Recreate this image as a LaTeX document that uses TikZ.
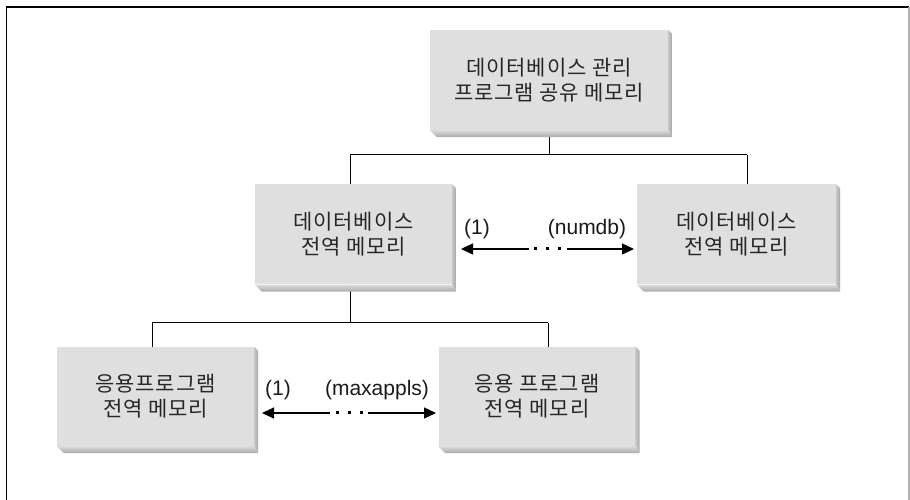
\documentclass[tikz,border=0pt]{standalone}
\usepackage{fontspec}
\setmainfont{Liberation Sans}
\newfontfamily\krfont[LetterSpace=4]{Noto Sans CJK KR}
\usetikzlibrary{calc,arrows.meta}

\begin{document}
\begin{tikzpicture}[%
    x=1pt,y=1pt,%
    membox/.style={fill=gray!25, inner sep=0pt, minimum width=197pt,%
      minimum height=100pt, align=center, text=black!85,%
      font=\krfont\fontsize{21}{25}\selectfont},%
    link/.style={line width=1pt},%
    tip/.style={line width=1.2pt, >={Triangle[length=12pt,width=11pt]}},%
    lbl/.style={inner sep=0pt, text=black!90, font=\fontsize{21}{24}\selectfont},%
  ]
  \useasboundingbox (0,0) rectangle (910,500);

  %
  % Positions
  %
  \pgfmathsetmacro{\ydb}{265.5};%
  \pgfmathsetmacro{\yapp}{103.5};%
  \pgfmathsetmacro{\ybus}{345};%
  \pgfmathsetmacro{\ybusapp}{177};%

  % Cadre
  \draw[line width=1.5pt] (6.5,0) -- (6.5,493) -- (909,493);
  \draw[gray!60, line width=1.2pt] (909,493) -- (909,0);

  %
  % Boites
  %
  \node[membox, minimum width=238pt] (dbm) at (549,420) {데이터베이스 관리\\프로그램 공유 메모리};
  \node[membox] (dbg1) at (353.5,\ydb) {데이터베이스\\전역 메모리};
  \node[membox, minimum width=199pt] (dbgn) at (736.5,\ydb) {데이터베이스\\전역 메모리};
  \node[membox, minimum height=99pt] (app1) at (155.5,\yapp) {응용프로그램\\전역 메모리};
  \node[membox, minimum height=99pt] (appn) at (537,\yapp) {응용 프로그램\\전역 메모리};

  %
  % Liaisons
  %
  \coordinate (busl) at (350,\ybus);
  \coordinate (busr) at (747,\ybus);
  \draw[link] (dbm.south) -- (dbm.south |- busl);
  \draw[link] (busl) -- (busr);
  \draw[link] (busl) -- (busl |- dbg1.north);
  \draw[link] (busr) -- (busr |- dbgn.north);

  \coordinate (appl) at (152,\ybusapp);
  \coordinate (appr) at (548,\ybusapp);
  \draw[link] (busl |- dbg1.south) -- (busl |- appl);
  \draw[link] (appl) -- (appr);
  \draw[link] (appl) -- (appl |- app1.north);
  \draw[link] (appr) -- (appr |- appn.north);

  % Relief des boites
  \foreach \n in {dbm,dbg1,dbgn,app1,appn} {
    \shade[left color=gray!45, right color=gray!68]
      (\n.north east) -- ++(4,-4) -- ($(\n.south east)+(4,-7)$) -- (\n.south east) -- cycle;
    \shade[top color=gray!28, bottom color=gray!68]
      (\n.south west) -- (\n.south east) -- ++(4,-7) -- ($(\n.south west)+(7,-7)$) -- cycle;
  }

  %
  % Fleches
  %
  \coordinate (dbarrowl) at (461,251);
  \coordinate (dbarrowr) at (634,251);
  \coordinate (apparrowl) at (262,87);
  \coordinate (apparrowr) at (436,87);
  \foreach \a/\b in {dbarrowl/dbarrowr, apparrowl/apparrowr} {
    \coordinate (mid) at ($(\a)!0.5!(\b)$);
    \draw[tip,<-] (\a) -- ($(mid)+(-19,0)$);
    \draw[tip,->] ($(mid)+(19,0)$) -- (\b);
    \foreach \d in {-12,0,12}
      \fill ($(mid)+(\d,0)$) +(-1.5,-1.5) rectangle +(1.5,1.5);
  }

  % Etiquettes
  \node[lbl] (dbfirst) at (477,271) {(1)};
  \node[lbl] (dblast) at (587,271) {(numdb)};
  \node[lbl] (appfirst) at (278,110) {(1)};
  \node[lbl] (applast) at (377,110) {(maxappls)};

\end{tikzpicture}
\end{document}
